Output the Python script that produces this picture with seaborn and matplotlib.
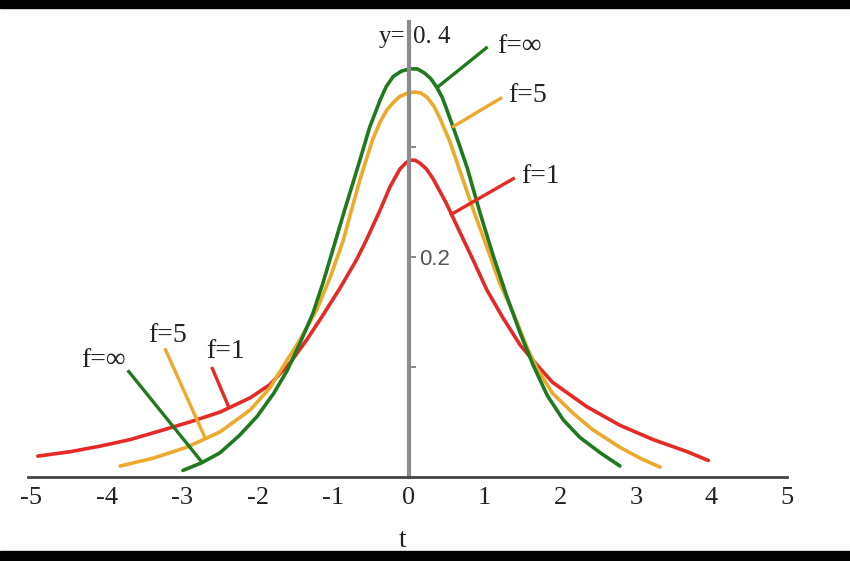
import numpy as np
import pandas as pd
import seaborn as sns
import matplotlib.pyplot as plt
from matplotlib.patches import Rectangle

# values (t, density)
t_inf = [-2.99, -2.74, -2.50, -2.24, -2.01, -1.79, -1.61, -1.44, -1.27, -1.14, -1.01,
         -0.85, -0.65, -0.52, -0.38, -0.30, -0.21, -0.10, 0.01, 0.11, 0.21, 0.29, 0.37,
         0.44, 0.50, 0.63, 0.77, 0.94, 1.11, 1.30, 1.47, 1.64, 1.83, 2.04, 2.26, 2.53, 2.79]
dens_inf = [0.006, 0.013, 0.022, 0.038, 0.055, 0.076, 0.097, 0.122, 0.149, 0.176, 0.206,
            0.243, 0.288, 0.318, 0.343, 0.355, 0.364, 0.369, 0.371, 0.371, 0.367, 0.362, 0.354,
            0.345, 0.334, 0.309, 0.281, 0.240, 0.202, 0.163, 0.131, 0.102, 0.074, 0.052, 0.036,
            0.022, 0.010]

t_5 = [-3.82, -3.39, -2.94, -2.50, -2.10, -1.84, -1.67, -1.44, -1.22, -1.04, -0.87,
       -0.76, -0.65, -0.48, -0.38, -0.29, -0.20, -0.12, -0.02, 0.08, 0.16, 0.24, 0.33,
       0.41, 0.54, 0.67, 0.85, 1.03, 1.20, 1.38, 1.56, 1.69, 1.90, 2.17, 2.43, 2.79,
       3.06, 3.32]
dens_5 = [0.010, 0.017, 0.027, 0.041, 0.061, 0.081, 0.100, 0.125, 0.152, 0.182, 0.215,
          0.243, 0.270, 0.307, 0.323, 0.334, 0.341, 0.346, 0.349, 0.350, 0.349, 0.345, 0.337,
          0.326, 0.305, 0.279, 0.243, 0.209, 0.176, 0.149, 0.118, 0.099, 0.076, 0.058,
          0.043, 0.027, 0.017, 0.009]

t_1 = [-4.91, -4.48, -4.09, -3.69, -3.29, -2.90, -2.50, -2.10, -1.84, -1.57, -1.35,
       -1.14, -0.91, -0.69, -0.56, -0.38, -0.25, -0.12, -0.05, 0.01, 0.08, 0.15, 0.23,
       0.32, 0.50, 0.67, 0.85, 1.03, 1.24, 1.47, 1.69, 1.90, 2.35, 2.79, 3.23, 3.68, 3.96]
dens_1 = [0.019, 0.023, 0.028, 0.034, 0.042, 0.050, 0.059, 0.072, 0.084, 0.104, 0.125,
          0.147, 0.172, 0.198, 0.216, 0.243, 0.264, 0.280, 0.285, 0.288, 0.288, 0.285, 0.280,
          0.271, 0.248, 0.223, 0.197, 0.170, 0.145, 0.120, 0.102, 0.086, 0.064, 0.047,
          0.034, 0.023, 0.015]

x_ticks = list(range(-5, 6))
x_tick_labels = [str(v) for v in x_ticks]

green = "#1f7a1f"
orange = "#eda92c"
red = "#e52a26"

sns.set_style("white")
plt.rcParams["font.family"] = ["Liberation Serif", "DejaVu Serif"]

fig = plt.figure(figsize=(8.5, 5.61), dpi=100)
ax = fig.add_axes([0, 84 / 561, 1, 469 / 561])

for t, d, c in [(t_1, dens_1, red), (t_5, dens_5, orange), (t_inf, dens_inf, green)]:
    sns.lineplot(x=t, y=d, color=c, lw=2.6, estimator=None, sort=False, ax=ax,
                 solid_joinstyle="round", solid_capstyle="round")

ax.set_xlim(-409 / 75.6, 441 / 75.6)
ax.set_ylim(0, 469 / 1100)

# axes through the origin
ax.spines["top"].set_visible(False)
ax.spines["left"].set_visible(False)
ax.spines["right"].set_position(("data", 0))
ax.spines["right"].set_color("#8c8c8c")
ax.spines["right"].set_linewidth(3)
ax.spines["right"].set_bounds(0, 0.414)
ax.spines["bottom"].set_color("#444444")
ax.spines["bottom"].set_linewidth(2)
ax.spines["bottom"].set_bounds(-5.04, 5.0)

ax.set_xticks(x_ticks, x_tick_labels)
ax.tick_params(axis="x", direction="in", length=7, width=1.5, color="#444444",
               labelsize=19, pad=7, labelcolor="#222222")
ax.yaxis.tick_right()
ax.set_yticks([0.1, 0.2, 0.3], ["", "0.2", ""])
ax.tick_params(axis="y", direction="out", length=5, width=1.5, color="#8c8c8c",
               labelsize=16, pad=2, labelcolor="#555555")
for lab in ax.get_yticklabels():
    lab.set_family(["Liberation Sans", "DejaVu Sans"])

ax.set_xlabel("t", fontsize=20, color="#222222")
ax.xaxis.set_label_coords(403 / 850, -0.108)
ax.set_ylabel("")

ax.text(-0.05, 0.4, "y=", ha="right", va="center", fontsize=18, color="#222222")
ax.text(0.05, 0.4, "0. 4", ha="left", va="center", fontsize=18, color="#222222")

# leader lines with labels
leaders = [
    ((0.37, 0.354), (1.04, 0.391), (1.16, 0.391), "f=∞", green, "left"),
    ((0.57, 0.318), (1.23, 0.345), (1.31, 0.347), "f=5", orange, "left"),
    ((0.54, 0.238), (1.40, 0.272), (1.48, 0.273), "f=1", red, "left"),
    ((-2.74, 0.0136), (-3.72, 0.097), (-3.74, 0.106), "f=∞", green, "right"),
    ((-2.70, 0.036), (-3.23, 0.117), (-3.19, 0.129), "f=5", orange, "center"),
    ((-2.38, 0.063), (-2.61, 0.100), (-2.42, 0.114), "f=1", red, "center"),
]
for (x0, y0), (x1, y1), (tx, ty), label, c, ha in leaders:
    ax.plot([x0, x1], [y0, y1], color=c, lw=2.4, solid_capstyle="butt")
    ax.text(tx, ty, label, ha=ha, va="center", fontsize=20, color="#222222")

# black bands at top and bottom of the picture
fig.patches.append(Rectangle((0, 1 - 8 / 561), 1, 8 / 561, transform=fig.transFigure,
                             color="black", zorder=10))
fig.patches.append(Rectangle((0, 0), 1, 10 / 561, transform=fig.transFigure,
                             color="black", zorder=10))

fig.savefig("out.png", dpi=100)
